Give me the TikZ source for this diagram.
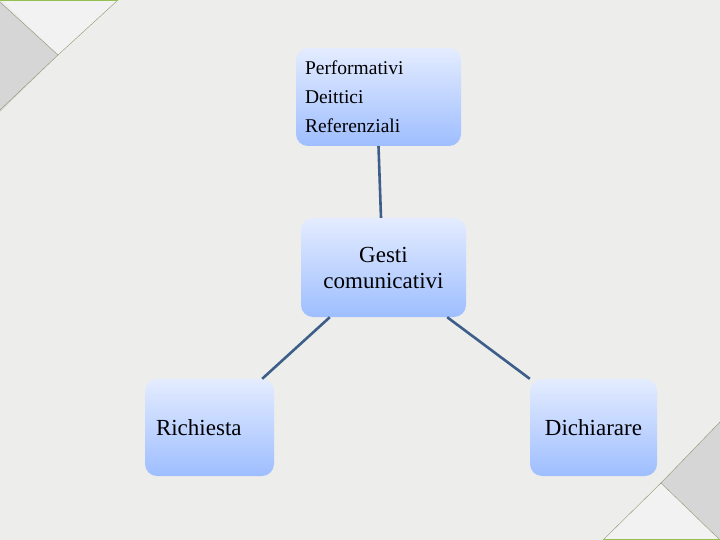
\documentclass[tikz,border=0pt]{standalone}
\usepackage{fontspec}
\setmainfont{Liberation Serif}
\usetikzlibrary{positioning}
\definecolor{sfondo}{RGB}{237,237,235}
\definecolor{boxtop}{RGB}{228,236,255}
\definecolor{boxbot}{RGB}{158,190,255}
\definecolor{linkblue}{RGB}{62,94,138}
\definecolor{edgegreen}{RGB}{150,190,80}
\definecolor{edgeline}{RGB}{140,150,110}
\begin{document}
\begin{tikzpicture}[x=1pt,y=-1pt,
	gesto/.style={rounded corners=12pt,top color=boxtop,bottom color=boxbot,
		draw=none,inner xsep=9pt,inner ysep=0pt},
	link/.style={draw=linkblue,line width=2.6pt}]
% Draw background
\fill[sfondo] (0,0) rectangle (720,540);
\useasboundingbox (0,0) rectangle (720,540);
% Draw corner triangles
\fill[gray!32] (0,2) -- (58,55) -- (0,112) -- cycle;
\fill[gray!10] (2,0) -- (118,0) -- (58,55) -- cycle;
\draw[edgeline,thin] (118,0) -- (58,55) -- (0,110) (0,2) -- (58,55);
\draw[edgegreen,line width=1.5pt] (0,0) -- (118,0);
\fill[gray!32] (661,483) -- (720,422) -- (720,540) -- cycle;
\fill[gray!10] (603,540) -- (661,483) -- (720,540) -- cycle;
\draw[edgeline,thin] (603,540) -- (661,483) -- (720,422) (661,483) -- (720,540);
\draw[edgegreen,line width=1.5pt] (603,540) -- (720,540);
% Draw boxes
\node[gesto,minimum width=165pt,minimum height=98pt,text width=147pt,align=left,
	font=\fontsize{19.5}{29}\selectfont] (tipi) at (378.5,97)
	{Performativi\\Deittici\\Referenziali};
\node[gesto,minimum width=165pt,minimum height=99pt,text width=147pt,align=center,
	font=\fontsize{23}{26}\selectfont] (gesti) at (383.5,267.5)
	{Gesti\\comunicativi};
\node[gesto,minimum width=129pt,minimum height=97pt,text width=107pt,align=left,
	inner xsep=11pt,font=\fontsize{23}{26}\selectfont] (richiesta) at (209.5,427.5)
	{Richiesta};
\node[gesto,minimum width=127pt,minimum height=97pt,text width=109pt,align=center,
	font=\fontsize{23}{26}\selectfont] (dichiarare) at (593.5,427.5)
	{Dichiarare};
% Draw links
\draw[link] (tipi.south) -- ([xshift=-2.5pt]gesti.north);
\draw[link] ([xshift=29pt]gesti.south west) -- ([xshift=-12pt]richiesta.north east);
\draw[link] ([xshift=-19pt]gesti.south east) -- (dichiarare.north west);
\end{tikzpicture}
\end{document}
